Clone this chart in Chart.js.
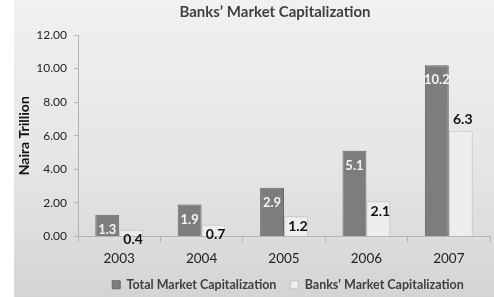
<!DOCTYPE html>
<html>
<head>
<meta charset="utf-8">
<script src="https://cdn.jsdelivr.net/npm/chart.js@4"></script>
<style>
  html, body { margin: 0; padding: 0; background: #fff; }
  #wrap { width: 494px; height: 297px; position: relative; }
</style>
</head>
<body>
<div id="wrap"><canvas id="chart" width="494" height="297"></canvas></div>
<script>
// data
var years = ['2003', '2004', '2005', '2006', '2007'];
var totalCap = [1.3, 1.9, 2.9, 5.1, 10.2];   // Total Market Capitalization
var banksCap = [0.4, 0.7, 1.2, 2.1, 6.3];    // Banks' Market Capitalization
var yTicks = [0, 2, 4, 6, 8, 10, 12];

var FONT = 'Lato, "Open Sans", sans-serif';

// grey gradient panel behind the chart (a thin white strip stays on the left)
var panel = {
	id: 'panel',
	beforeDraw: function(chart) {
		var ctx = chart.ctx;
		var g = ctx.createLinearGradient(0, 0, 0, chart.height);
		g.addColorStop(0, '#f1f1f1');
		g.addColorStop(0.6, '#e4e4e4');
		g.addColorStop(1, '#d4d4d4');
		ctx.save();
		ctx.fillStyle = '#ffffff';
		ctx.fillRect(0, 0, chart.width, chart.height);
		ctx.fillStyle = g;
		ctx.fillRect(14, 0, chart.width - 14, chart.height);
		ctx.restore();
	}
};

// the original centres title and legend a bit right of the canvas middle
var nudge = {
	id: 'nudge',
	afterLayout: function(chart) {
		if (chart.titleBlock) {
			chart.titleBlock.left += 23;
			chart.titleBlock.right += 23;
		}
		if (chart.legend) {
			chart.legend.left += 36;
			chart.legend.right += 36;
		}
	}
};

// value labels on the bars
var barLabels = {
	id: 'barLabels',
	afterDatasetsDraw: function(chart) {
		var ctx = chart.ctx;
		ctx.save();
		ctx.textAlign = 'center';
		ctx.textBaseline = 'middle';
		chart.data.datasets.forEach(function(ds, di) {
			var meta = chart.getDatasetMeta(di);
			meta.data.forEach(function(bar, i) {
				var v = ds.data[i];
				if (di === 0) {
					ctx.font = 'bold 13px ' + FONT;
					ctx.fillStyle = '#f4f4f4';
					ctx.fillText(v.toFixed(1), bar.x, bar.y + 15);
				} else {
					ctx.font = 'bold 14px ' + FONT;
					ctx.fillStyle = '#111111';
					var y = v > 5 ? bar.y - 11 : bar.y + 10;
					ctx.fillText(v.toFixed(1), bar.x + 2, y);
				}
			});
		});
		ctx.restore();
	}
};

new Chart(document.getElementById('chart'), {
	type: 'bar',
	data: {
		labels: years,
		datasets: [{
			label: 'Total Market Capitalization',
			data: totalCap,
			backgroundColor: '#7d7d7d',
			borderColor: '#686868',
			borderWidth: 1,
			categoryPercentage: 0.58,
			barPercentage: 1.0
		}, {
			label: "Banks' Market Capitalization",
			data: banksCap,
			backgroundColor: '#eeeeee',
			borderColor: '#c2c2c2',
			borderWidth: 1,
			categoryPercentage: 0.58,
			barPercentage: 1.0
		}]
	},
	options: {
		responsive: false,
		animation: false,
		devicePixelRatio: 1,
		layout: { padding: { left: 14, right: 4, top: 0, bottom: -4 } },
		plugins: {
			title: {
				display: true,
				text: 'Banks\u2019 Market Capitalization',
				color: '#404040',
				font: { family: FONT, size: 15, weight: 'bold' },
				padding: { top: 3, bottom: 14 }
			},
			legend: {
				display: true,
				position: 'bottom',
				labels: {
					color: '#404040',
					font: { family: FONT, size: 12.5, weight: 'bold' },
					boxWidth: 8,
					boxHeight: 8,
					padding: 14
				}
			},
			tooltip: { enabled: false }
		},
		scales: {
			x: {
				grid: {
					display: true,
					offset: true,
					drawOnChartArea: false,
					drawTicks: true,
					tickLength: 6,
					color: '#b4b4b4'
				},
				border: { display: true, color: '#b4b4b4' },
				ticks: {
					color: '#222222',
					font: { family: FONT, size: 13.5 },
					padding: 8
				},
				afterFit: function(s) { s.height = 28; }
			},
			y: {
				min: 0,
				max: 12,
				afterBuildTicks: function(s) {
					s.ticks = yTicks.map(function(v) { return { value: v }; });
				},
				grid: {
					display: true,
					drawOnChartArea: false,
					drawTicks: true,
					tickLength: 4,
					color: '#b4b4b4'
				},
				border: { display: true, color: '#b4b4b4' },
				ticks: {
					color: '#222222',
					font: { family: FONT, size: 12 },
					padding: 7,
					callback: function(v) { return Number(v).toFixed(2); }
				},
				title: {
					display: true,
					text: 'Naira Trillion',
					color: '#111111',
					font: { family: FONT, size: 14, weight: 'bold' },
					padding: { top: 2, bottom: 2 }
				},
				afterFit: function(s) { s.width = 64; }
			}
		}
	},
	plugins: [panel, nudge, barLabels]
});
</script>
</body>
</html>
